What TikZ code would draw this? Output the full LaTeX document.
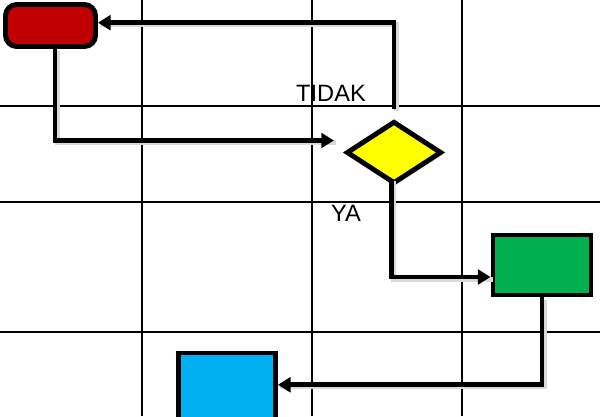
\documentclass[tikz,border=0pt]{standalone}
\usepackage{fontspec}
\setmainfont{Liberation Sans}
\usetikzlibrary{arrows.meta,shapes.geometric,shadows}

\definecolor{merah}{HTML}{C00000}
\definecolor{kuning}{HTML}{FFFF00}
\definecolor{hijau}{HTML}{00B050}
\definecolor{biru}{HTML}{00B0F0}

\tikzset{
  kotak/.style={draw=black, line width=3.5pt, inner sep=0pt,
    drop shadow={opacity=0.25, shadow xshift=1.5pt, shadow yshift=-1.5pt}},
  panah/.style={line width=3.5pt, -{Triangle[length=9pt,width=10.5pt]},
    preaction={draw=black!15, line width=3.5pt, -, transform canvas={xshift=1.6pt, yshift=-1.6pt}}},
  kisi/.style={black, line width=1.4pt},
  label/.style={font=\fontsize{16.8}{20}\selectfont, inner sep=0pt}
}

\begin{document}
\begin{tikzpicture}[x=0.025cm, y=0.025cm]
    \useasboundingbox (0,0) rectangle (600,416);

    % Garis kisi
    \foreach \gx in {142, 312, 462}
        \draw[kisi] (\gx,0) -- (\gx,416);
    \foreach \gy in {84, 214, 310}
        \draw[kisi] (0,\gy) -- (600,\gy);

    % Kotak / Bentuk
    \node[kotak, fill=merah, rounded corners=8pt, minimum width=2.25cm, minimum height=1.05cm] (merah) at (50.5,390.5) {};
    \node[kotak, fill=kuning, diamond, minimum width=2.38cm, minimum height=1.56cm] (keputusan) at (394,263.5) {};
    \node[kotak, fill=hijau, minimum width=2.45cm, minimum height=1.5cm] (hijau) at (542,151) {};
    \node[kotak, fill=biru, minimum width=2.42cm, minimum height=1.8cm] (biru) at (227,27) {};

    % Titik bantu
    \coordinate (atas) at ([yshift=0.25cm]keputusan.north);
    \coordinate (kiri) at ([xshift=-0.25cm, yshift=0.3cm]keputusan.west);
    \coordinate (bawah) at ([xshift=-2, yshift=0.18cm]keputusan.south);

    % Panah
    \draw[panah] ([xshift=3.2pt]merah.south) |- (kiri);
    \draw[panah] (atas) |- ([yshift=2pt]merah.east);
    \draw[panah] (bawah) |- ([yshift=-0.3cm]hijau.west);
    \draw[panah] (hijau.south) |- ([yshift=3pt]biru.east);

    % Teks
    \node[label] (tidak) at (331,323) {TIDAK};
    \node[label] (ya) at (346,203) {YA};
\end{tikzpicture}
\end{document}
